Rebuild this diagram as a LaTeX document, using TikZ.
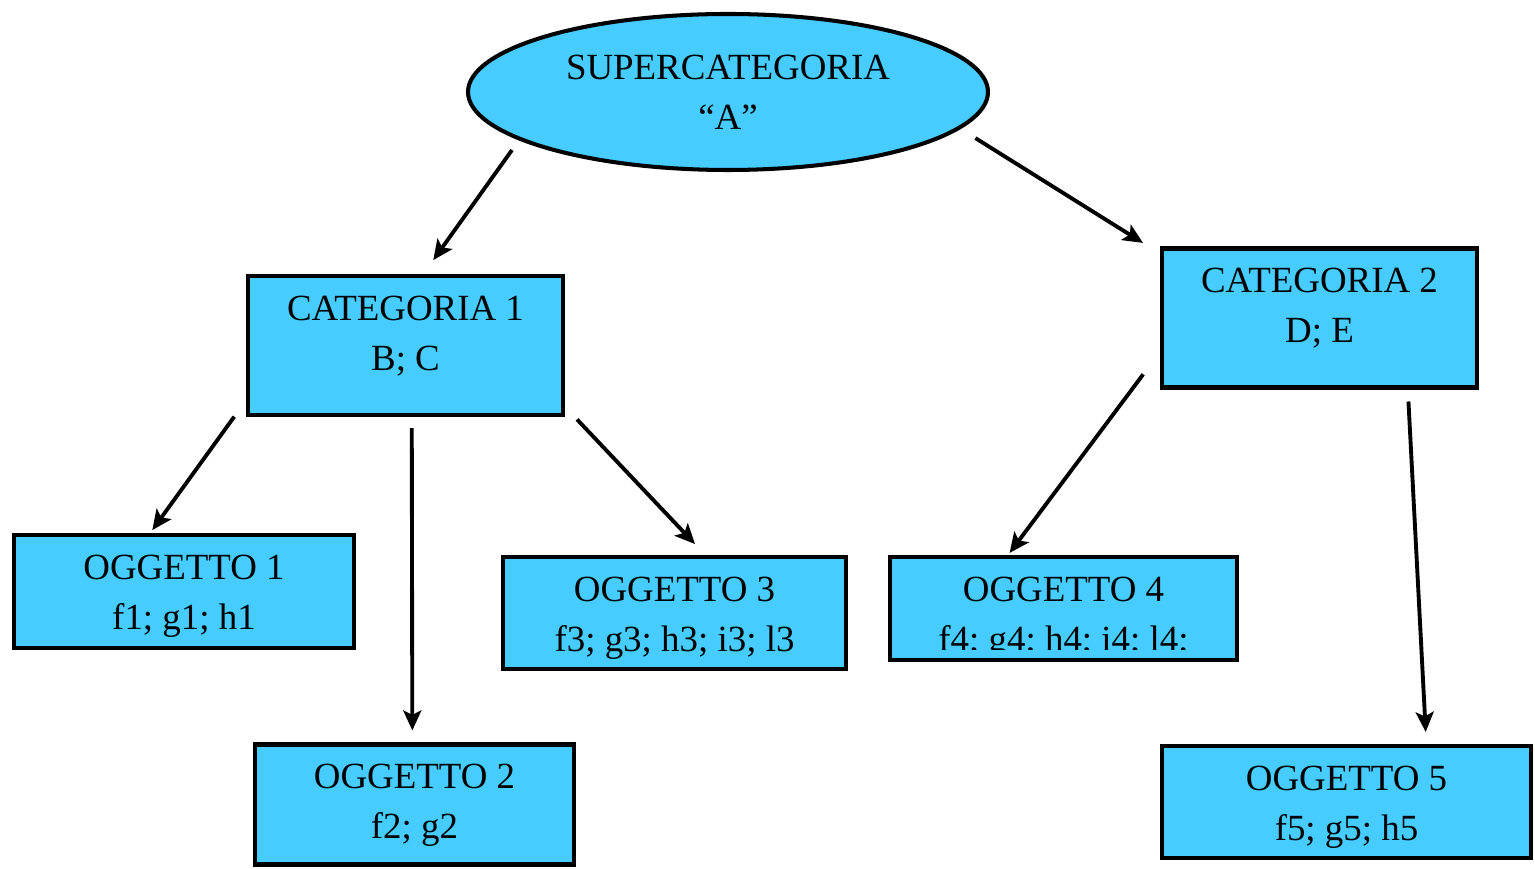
\documentclass[tikz,border=0pt]{standalone}
\usepackage{fontspec}
\setmainfont{Liberation Serif}
\usepackage{xcolor}
\usepackage{tikz}
\usetikzlibrary{positioning,shapes.geometric,arrows.meta}
\definecolor{CatCyan}{HTML}{47CCFF}

\begin{document}
\begin{tikzpicture}[x=1cm,y=1cm,
  box/.style={draw=black,fill=CatCyan,line width=2.3pt,rectangle,inner sep=0pt},
  txt/.style={font=\fontsize{21}{28.5}\selectfont,align=center,inner sep=0pt},
  conn/.style={line width=2.2pt,-{Stealth[length=4mm,width=3.6mm,inset=0.9mm]}}]
\path[use as bounding box] (0,0) rectangle (30.70,17.38);
\node[draw=black,fill=CatCyan,line width=2.3pt,ellipse,inner sep=0pt,minimum width=10.40cm,minimum height=3.12cm,txt] (sup) at (14.56,15.54) {SUPERCATEGORIA\\``A''};
\node[box,minimum width=6.30cm,minimum height=2.78cm] (cat1) at (8.11,10.47) {};
\node[txt,below=0.43cm of cat1.north] (cat1t) {CATEGORIA 1\\B; C};
\node[box,minimum width=6.30cm,minimum height=2.78cm] (cat2) at (26.39,11.02) {};
\node[txt,below=0.43cm of cat2.north] (cat2t) {CATEGORIA 2\\D; E};
\node[box,minimum width=6.80cm,minimum height=2.26cm] (obj1) at (3.68,5.55) {};
\node[txt,below=0.43cm of obj1.north] (obj1t) {OGGETTO 1\\f1; g1; h1};
\node[box,minimum width=6.38cm,minimum height=2.40cm] (obj2) at (8.29,1.29) {};
\node[txt,below=0.43cm of obj2.north] (obj2t) {OGGETTO 2\\f2; g2};
\node[box,minimum width=6.86cm,minimum height=2.24cm] (obj3) at (13.49,5.12) {};
\node[txt,below=0.43cm of obj3.north] (obj3t) {OGGETTO 3\\f3; g3; h3; i3; l3};
\node[box,minimum width=6.94cm,minimum height=2.06cm] (obj4) at (21.27,5.21) {};
\begin{scope}
\clip ([yshift=0.26cm]obj4.south west) rectangle (obj4.north east);
\node[txt,below=0.43cm of obj4.north] (obj4t) {OGGETTO 4\\f4; g4; h4; i4; l4;};
\end{scope}
\node[box,minimum width=7.38cm,minimum height=2.24cm] (obj5) at (26.93,1.34) {};
\node[txt,below=0.43cm of obj5.north] (obj5t) {OGGETTO 5\\f5; g5; h5};
\draw[conn,shorten <=0.24cm,shorten >=0.34cm] (sup.193.1) -- (cat1.76.8);
\draw[conn,shorten <=0.35cm,shorten >=0.40cm] (sup.351.1) -- (cat2.158.7);
\draw[conn,shorten <=0.40cm,shorten >=0.07cm] (cat1.199.4) -- (obj1.120.3);
\draw[conn,shorten <=0.22cm,shorten >=0.24cm] (cat1.275.3) -- (obj2.92.3);
\draw[conn,shorten <=0.35cm,shorten >=0.30cm] (cat1.339.8) -- (obj3.62.0);
\draw[conn,shorten <=0.56cm,shorten >=0.05cm] (cat2.192.6) -- (obj4.136.8);
\draw[conn,shorten <=0.24cm,shorten >=0.24cm] (cat2.321.7) -- (obj5.36.6);
\end{tikzpicture}
\end{document}
